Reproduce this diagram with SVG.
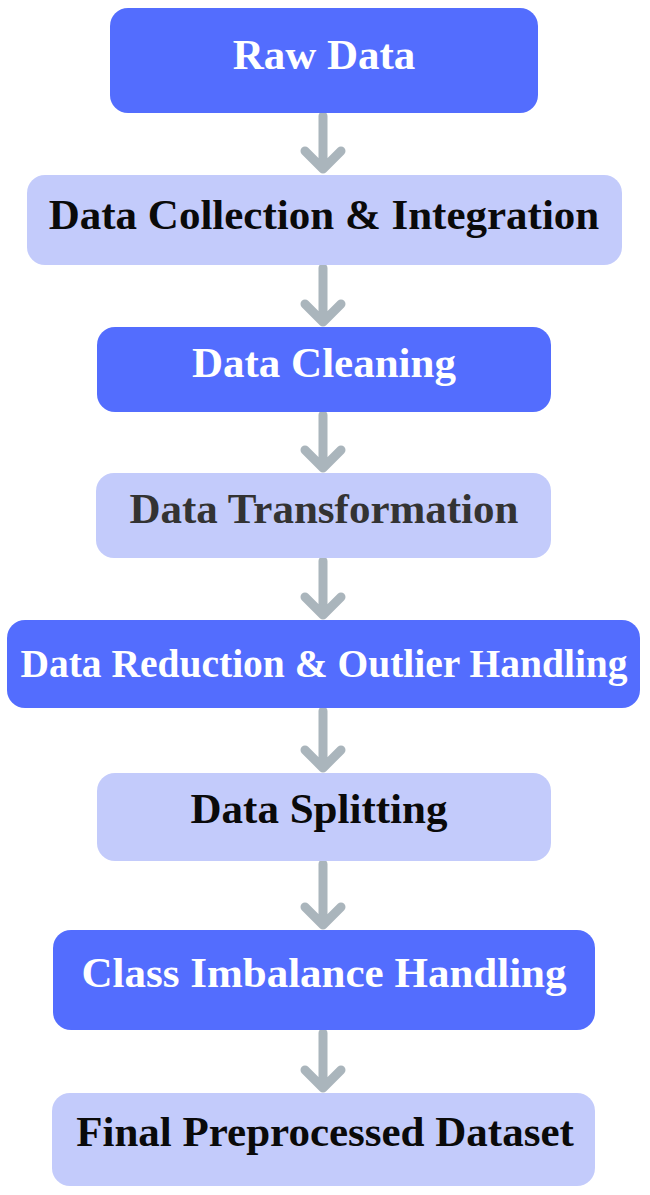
<svg xmlns="http://www.w3.org/2000/svg" width="650" height="1195" viewBox="0 0 650 1195">
<style>
.dark{fill:#536dfe;}
.light{fill:#c3cbfb;}
.t{font-family:"Liberation Serif","Times New Roman",serif;font-weight:bold;font-size:43px;text-anchor:middle;}
.tw{fill:#ffffff;}
.tb{fill:#0a0a0a;}
.tg{fill:#333333;}
.arr{fill:none;stroke:#aab5bc;stroke-width:9;stroke-linecap:round;stroke-linejoin:round;}
</style>
<rect width="650" height="1195" fill="#ffffff"/>
<g id="connectors">
<path class="arr" d="M323 116 V169 M305 151 L323 169 L341 151"/>
<path class="arr" d="M323 268 V322 M305 304 L323 322 L341 304"/>
<path class="arr" d="M323 415 V468 M305 450 L323 468 L341 450"/>
<path class="arr" d="M323 561 V615 M305 597 L323 615 L341 597"/>
<path class="arr" d="M323 711 V768 M305 750 L323 768 L341 750"/>
<path class="arr" d="M323 864 V925 M305 907 L323 925 L341 907"/>
<path class="arr" d="M323 1033 V1088 M305 1070 L323 1088 L341 1070"/>
</g>
<g id="raw-data">
<rect class="dark" x="110" y="8" width="428" height="105" rx="18"/>
<text class="t tw" x="324" y="69">Raw Data</text>
</g>
<g id="data-collection">
<rect class="light" x="27" y="175" width="595" height="90" rx="18"/>
<text class="t tb" x="324" y="229">Data Collection &amp; Integration</text>
</g>
<g id="data-cleaning">
<rect class="dark" x="97" y="327" width="454" height="85" rx="18"/>
<text class="t tw" x="324" y="377">Data Cleaning</text>
</g>
<g id="data-transformation">
<rect class="light" x="96" y="473" width="455" height="85" rx="18"/>
<text class="t tg" x="324" y="523">Data Transformation</text>
</g>
<g id="data-reduction">
<rect class="dark" x="7" y="620" width="633" height="88" rx="18"/>
<text class="t tw" x="324" y="677" style="font-size:39.5px">Data Reduction &amp; Outlier Handling</text>
</g>
<g id="data-splitting">
<rect class="light" x="97" y="773" width="454" height="88" rx="18"/>
<text class="t tb" x="319" y="823">Data Splitting</text>
</g>
<g id="class-imbalance">
<rect class="dark" x="53" y="930" width="542" height="100" rx="18"/>
<text class="t tw" x="324" y="987">Class Imbalance Handling</text>
</g>
<g id="final-dataset">
<rect class="light" x="52" y="1093" width="543" height="93" rx="18"/>
<text class="t tb" x="325" y="1146">Final Preprocessed Dataset</text>
</g>
</svg>
